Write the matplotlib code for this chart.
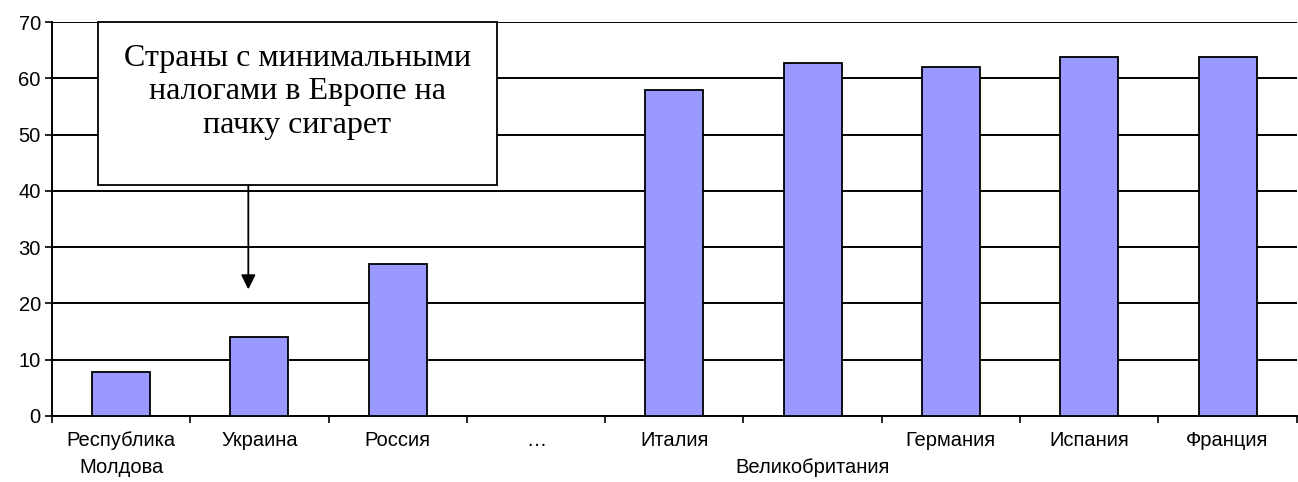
import numpy as np
import matplotlib
matplotlib.use("Agg")
import matplotlib.pyplot as plt
from matplotlib.patches import Rectangle

categories = ["Республика\nМолдова", "Украина", "Россия", "…", "Италия",
              "\nВеликобритания", "Германия", "Испания", "Франция"]
values = [7.8, 14.0, 27.0, np.nan, 58.0, 62.7, 62.1, 63.8, 63.8]
yticks = [0, 10, 20, 30, 40, 50, 60, 70]
note = "Страны с минимальными\nналогами в Европе на\nпачку сигарет"

fig = plt.figure(figsize=(12.98, 4.82), dpi=100)
ax = fig.add_axes([0.040, 0.137, 0.959, 0.817])

x = np.arange(len(categories))
ax.bar(x, values, width=0.42, color="#9999FF", edgecolor="black", linewidth=1.3, zorder=3)

ax.set_xlim(-0.5, len(categories) - 0.5)
ax.set_ylim(0, 70)
ax.set_yticks(yticks)
ax.set_yticklabels([str(v) for v in yticks], fontsize=14.5, family="Liberation Sans")
ax.yaxis.grid(True, color="black", linewidth=1.4, zorder=0)
ax.set_axisbelow(True)

ax.set_xticks(np.arange(-0.5, len(categories) - 0.4, 1.0))
ax.set_xticklabels([])
ax.set_xticks(x, minor=True)
ax.set_xticklabels(categories, minor=True, fontsize=14.5, family="Liberation Sans",
                   linespacing=1.55, va="top")
ax.tick_params(axis="x", which="minor", length=0, pad=11)
ax.tick_params(axis="x", which="major", length=5, width=1.2, direction="out")
ax.tick_params(axis="y", length=5, width=1.2, direction="out", pad=3)

for s in ["top", "right"]:
    ax.spines[s].set_visible(False)
for s in ["left", "bottom"]:
    ax.spines[s].set_linewidth(1.4)

# annotation box
box = Rectangle((-0.17, 41.0), 2.89, 29.0, facecolor="white", edgecolor="black",
                linewidth=1.3, zorder=5, clip_on=False)
ax.add_patch(box)
ax.text(1.275, 66.2, note, ha="center", va="top", fontsize=23, family="Liberation Serif",
        linespacing=1.22, zorder=6)
ax.annotate("", xy=(0.92, 22.5), xytext=(0.92, 41.0),
            arrowprops=dict(arrowstyle="-|>", color="black", lw=1.3,
                            mutation_scale=22, shrinkA=0, shrinkB=0), zorder=6)

fig.savefig("out.png", dpi=100)
